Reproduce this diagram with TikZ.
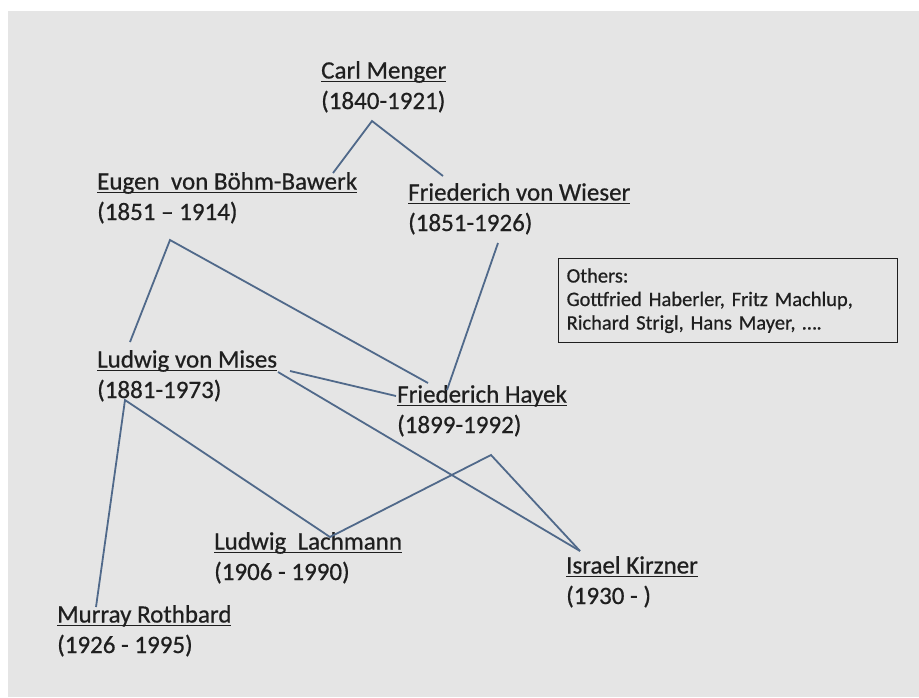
\documentclass[tikz,border=0pt]{standalone}
\usepackage{fontspec}
\setmainfont{Carlito}[FakeBold=0.6]
\usepackage{tikz}
\definecolor{pagegrey}{HTML}{E5E5E5}
\definecolor{linkblue}{HTML}{50698A}
\definecolor{inkgrey}{HTML}{1F1F1F}
\newcommand{\uname}[1]{\setbox0\hbox{#1}\rlap{\rule[-3.6pt]{\wd0}{1.6pt}}\box0}
\tikzset{person/.style={anchor=base west,align=left,inner sep=0pt,text=inkgrey,font=\fontsize{25}{30.5}\selectfont}}
\tikzset{link/.style={linkblue,line width=1.8pt}}

\begin{document}
\begin{tikzpicture}[x=1pt, y=-1pt]

    \fill [white] (0, 0) rectangle (919, 697);
    \fill [pagegrey] (8, 11) rectangle (919, 697);

    % placed by the baseline of the years
    \node [person] (menger) at (321, 109) {\uname{Carl Menger}\\(1840-1921)};
    \node [person] (bohm) at (97, 220) {\uname{Eugen\ \ von Böhm-Bawerk}\\(1851 -- 1914)};
    \node [person] (wieser) at (408, 231) {\uname{Friederich von Wieser}\\(1851-1926)};
    \node [person] (mises) at (97, 398) {\uname{Ludwig von Mises}\\(1881-1973)};
    \node [person] (hayek) at (397, 433) {\uname{Friederich Hayek}\\(1899-1992)};
    \node [person] (lachmann) at (214, 580) {\uname{Ludwig\ \ Lachmann}\\(1906 - 1990)};
    \node [person] (kirzner) at (566, 604) {\uname{Israel Kirzner}\\(1930 - )};
    \node [person] (rothbard) at (57, 653) {\uname{Murray Rothbard}\\(1926 - 1995)};

    \node [draw=inkgrey, line width=1.3pt, anchor=north west, minimum width=339pt, minimum height=84pt,
           text width=323pt, inner xsep=8pt, align=left, text=inkgrey, font=\fontsize{20.5}{23.5}\selectfont]
           (others) at (558, 258) {Others:\\Gottfried Haberler, Fritz Machlup,\\Richard Strigl, Hans Mayer, \dots.};

    % ends of the connectors
    \coordinate (menger-v) at (372, 121);
    \coordinate (bohm-up) at (333, 173);
    \coordinate (wieser-up) at (443, 176);
    \coordinate (bohm-v) at (170, 240);
    \coordinate (mises-up) at (130, 342);
    \coordinate (hayek-up1) at (428, 383);
    \coordinate (wieser-dn) at (498, 243);
    \coordinate (hayek-up2) at (447, 390);
    \coordinate (mises-r1) at (290, 371);
    \coordinate (hayek-l) at (396, 396);
    \coordinate (mises-r2) at (278, 372);
    \coordinate (kirzner-up) at (580, 551);
    \coordinate (mises-v) at (125, 400);
    \coordinate (rothbard-up) at (96, 607);
    \coordinate (lachmann-up) at (330, 537);
    \coordinate (hayek-v) at (491, 455);

    \draw [link] (bohm-up) -- (menger-v) -- (wieser-up);
    \draw [link] (mises-up) -- (bohm-v) -- (hayek-up1);
    \draw [link] (wieser-dn) -- (hayek-up2);
    \draw [link] (mises-r1) -- (hayek-l);
    \draw [link] (mises-r2) -- (kirzner-up);
    \draw [link] (rothbard-up) -- (mises-v) -- (lachmann-up) -- (hayek-v) -- (kirzner-up);

\end{tikzpicture}
\end{document}
